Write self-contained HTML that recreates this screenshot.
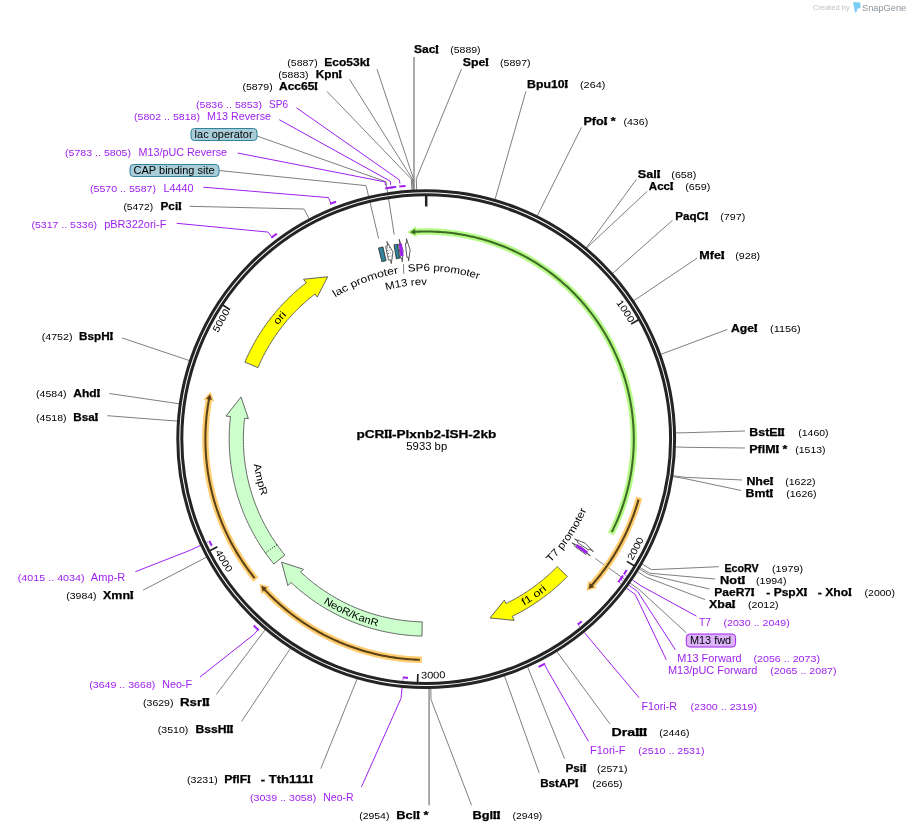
<!DOCTYPE html>
<html><head><meta charset="utf-8"><title>pCRII-Plxnb2-ISH-2kb</title>
<style>html,body{margin:0;padding:0;background:#fff;}svg{display:block;will-change:transform;}text{font-family:"Liberation Sans",sans-serif;}</style>
</head><body>
<svg width="910" height="832" viewBox="0 0 910 832" font-family="'Liberation Sans', sans-serif">
<rect width="910" height="832" fill="#fff"/>
<g stroke="#7f7f7f" stroke-width="1" fill="none">
<polyline points="414,57 414,190.57" fill="none" stroke="#9c9c9c" stroke-width="1.7"/>
<polyline points="377,69.2 413.51,178.91 414.08,190.6" fill="none" />
<polyline points="349.5,79.3 412.41,178.97 413.03,190.65" fill="none" />
<polyline points="326.8,91.2 411.31,179.03 411.98,190.71" fill="none" />
<polyline points="461.4,69.2 416.27,178.79 416.72,190.48" fill="none" />
<polyline points="525.9,91.4 494.86,199.96" fill="none" />
<polyline points="581.5,127.3 537.04,216.35" fill="none" />
<polyline points="636.4,179.4 585.88,248.3" fill="none" />
<polyline points="647.3,191.2 586.08,248.47" fill="none" />
<polyline points="672.5,220.3 612.14,273.79" fill="none" />
<polyline points="697,258.2 633.21,301.09" fill="none" />
<polyline points="727.4,329.4 660.21,354.59" fill="none" />
<polyline points="745,431 686.62,432.69 674.92,432.97" fill="none" />
<polyline points="745,448 686.57,447.31 674.88,446.94" fill="none" />
<polyline points="742,480 683.89,477.24 672.32,475.53" fill="none" />
<polyline points="741.2,490.5 683.73,478.33 672.16,476.57" fill="none" />
<polyline points="718.8,566.7 651.62,569.67 641.49,563.8" fill="none" />
<polyline points="715,579 649.51,573.23 639.48,567.21" fill="none" />
<polyline points="709.5,589 648.66,574.65 638.66,568.56" fill="none" />
<polyline points="705,599.6 646.92,577.46 637,571.25" fill="none" />
<polyline points="610,724 556.5,651.05" fill="none" />
<polyline points="564.5,758.5 527.39,666.39" fill="none" />
<polyline points="539.2,773 504.3,675.32" fill="none" />
<polyline points="471.5,805.2 431.03,699.56 430.81,687.86" fill="none" />
<polyline points="429.1,805.2 429.1,687.88" fill="none" stroke="#9c9c9c" stroke-width="1.7"/>
<polyline points="320.8,768.6 357.42,678.2" fill="none" />
<polyline points="241.5,721.5 290.77,647.81" fill="none" />
<polyline points="216.3,694.5 265.61,629.14" fill="none" />
<polyline points="143,590.2 207.06,556.9" fill="none" />
<polyline points="107.4,415.7 166.38,420.29 178.05,421.13" fill="none" />
<polyline points="109.4,393.5 168.33,402.19 179.91,403.85" fill="none" />
<polyline points="122,337.9 190.04,360.81" fill="none" />
<polyline points="189.5,206.3 304.01,209.03 309.5,219.37" fill="none" />
<polyline points="257,136 385.95,181.73 394.21,234.59" fill="none" />
<polyline points="219,170.5 366.05,185.64 378.64,238.67" fill="none" />
<polyline points="686.5,633 638.97,589.4 595.27,558.54" fill="none" />
<polyline points="403.5,264.2 403.8,273.8" fill="none" />
</g>
<g stroke="#a020f0" fill="none" stroke-linejoin="round">
<polyline points="176.7,223.3 268.06,232.09 271.64,236.78" fill="none" stroke-width="1.0"/>
<polyline points="271.32,237.78 271.93,237.32 272.53,236.86 273.13,236.4 273.74,235.94 274.35,235.49 274.96,235.04 275.57,234.59 276.18,234.14 276.79,233.69" fill="none" stroke-width="2.0"/>
<polyline points="203.2,187.2 328.51,197.61 330.72,203.08" fill="none" stroke-width="1.0"/>
<polyline points="330.15,203.96 330.87,203.67 331.6,203.37 332.34,203.08 333.07,202.79 333.8,202.5 334.53,202.22 335.27,201.94 336,201.65" fill="none" stroke-width="2.0"/>
<polyline points="237.6,153 384.99,181.88 385.58,185.53" fill="none" stroke-width="1.0"/>
<polyline points="385.17,188.44 385.93,188.31 386.68,188.19 387.43,188.08 388.19,187.96 388.95,187.85 389.7,187.74 390.46,187.63 391.21,187.52 391.97,187.42 392.73,187.32" fill="none" stroke-width="2.0"/>
<polyline points="279.3,119.7 390.18,181.1 390.69,184.77" fill="none" stroke-width="1.0"/>
<polyline points="390.22,187.66 390.97,187.56 391.71,187.45 392.46,187.35 393.21,187.25 393.95,187.16 394.7,187.06 395.45,186.97 396.2,186.88" fill="none" stroke-width="2.0"/>
<polyline points="296.5,107.8 399.49,179.97 399.87,183.65" fill="none" stroke-width="1.0"/>
<polyline points="399.3,186.53 400.08,186.45 400.86,186.37 401.65,186.29 402.43,186.21 403.21,186.14 404,186.07 404.78,186 405.56,185.94" fill="none" stroke-width="2.0"/>
<polyline points="588.5,741.5 547.29,669.75 544.55,664.52" fill="none" stroke-width="1.0"/>
<polyline points="545.03,663.59 544.38,663.93 543.72,664.28 543.07,664.62 542.42,664.95 541.76,665.29 541.1,665.62 540.44,665.96 539.79,666.29 539.13,666.62 538.47,666.94" fill="none" stroke-width="2.0"/>
<polyline points="200,677 253.89,634.47 257.79,630.04" fill="none" stroke-width="1.0"/>
<polyline points="258.83,630.16 258.26,629.66 257.69,629.16 257.13,628.65 256.56,628.15 256,627.64 255.43,627.13 254.87,626.62 254.31,626.1 253.75,625.59" fill="none" stroke-width="2.0"/>
<polyline points="696.5,616.2 641.33,586 632.49,579.97" fill="none" stroke-width="1.0"/>
<polyline points="626.87,576.14 624.81,574.73" fill="none" stroke-width="0.9" stroke-opacity="0.75"/>
<polyline points="675.4,649.8 637.52,591.42 628.84,585.17" fill="none" stroke-width="1.0"/>
<polyline points="623.33,581.19 621.3,579.73" fill="none" stroke-width="0.9" stroke-opacity="0.75"/>
<polyline points="666.3,659.8 635.24,594.54 626.66,588.16" fill="none" stroke-width="1.0"/>
<polyline points="621.2,584.1 619.19,582.61" fill="none" stroke-width="0.9" stroke-opacity="0.75"/>
<polyline points="639.2,697.8 591.16,640.72 584.38,632.44" fill="none" stroke-width="1.0"/>
<polyline points="580.07,627.17 578.49,625.24" fill="none" stroke-width="0.9" stroke-opacity="0.75"/>
<polyline points="361.4,787 401,698.38 402.03,687.73" fill="none" stroke-width="1.0"/>
<polyline points="402.69,680.96 402.93,678.47" fill="none" stroke-width="0.9" stroke-opacity="0.75"/>
<polyline points="135.4,571.7 190.54,550.13 200.22,545.56" fill="none" stroke-width="1.0"/>
<polyline points="206.38,542.67 208.64,541.6" fill="none" stroke-width="0.9" stroke-opacity="0.75"/>
</g>
<circle cx="426.2" cy="439.1" r="246.4" fill="none" stroke="#fff" stroke-width="6.6" stroke-opacity="0.55"/>
<circle cx="426.2" cy="439.1" r="248.4" fill="none" stroke="#242424" stroke-width="3.0"/>
<circle cx="426.2" cy="439.1" r="244.4" fill="none" stroke="#242424" stroke-width="3.0"/>
<g stroke="#a020f0" fill="none" stroke-linejoin="round">
<polyline points="626.77,569.99 626.36,570.61 625.95,571.23 625.54,571.86 625.12,572.48 624.71,573.1 624.29,573.71 623.87,574.33" fill="none" stroke-width="2.0"/>
<polyline points="623.09,575.46 622.71,576.01 622.32,576.56 621.93,577.12 621.55,577.67 621.15,578.21 620.76,578.76 620.37,579.31" fill="none" stroke-width="2.0"/>
<polyline points="621.78,577.33 621.35,577.94 620.92,578.55 620.48,579.16 620.04,579.76 619.6,580.37 619.16,580.97 618.71,581.57 618.27,582.17" fill="none" stroke-width="2.0"/>
<polyline points="581.71,621.24 581.14,621.73 580.57,622.21 580,622.69 579.43,623.17 578.85,623.65 578.28,624.12 577.7,624.59" fill="none" stroke-width="2.0"/>
<polyline points="408.03,677.91 407.29,677.85 406.54,677.79 405.8,677.73 405.06,677.66 404.31,677.6 403.57,677.53 402.83,677.46" fill="none" stroke-width="2.0"/>
<polyline points="211.73,545.7 211.4,545.03 211.07,544.36 210.74,543.69 210.42,543.01 210.09,542.34 209.77,541.67 209.46,540.99" fill="none" stroke-width="2.0"/>
</g>
<polyline points="426.2,195.1 426.2,206.5" fill="none" stroke="#222" stroke-width="2.5"/>
<polyline points="638.94,319.61 631.09,324.01" fill="none" stroke="#222" stroke-width="1.7"/>
<text transform="translate(617.85,305.19) rotate(55.06) scale(1.15,1)" text-anchor="middle" font-size="9.6" fill="#000">1</text>
<text transform="translate(621.29,310.25) rotate(56.56) scale(1.15,1)" text-anchor="middle" font-size="9.6" fill="#000">0</text>
<text transform="translate(624.6,315.41) rotate(58.06) scale(1.15,1)" text-anchor="middle" font-size="9.6" fill="#000">0</text>
<text transform="translate(627.77,320.65) rotate(59.56) scale(1.15,1)" text-anchor="middle" font-size="9.6" fill="#000">0</text>
<polyline points="634.57,566.06 626.88,561.38" fill="none" stroke="#222" stroke-width="1.7"/>
<text transform="translate(634.01,558.16) rotate(-60.19) scale(1.15,1)" text-anchor="middle" font-size="9.6" fill="#000">2</text>
<text transform="translate(636.99,552.81) rotate(-61.66) scale(1.15,1)" text-anchor="middle" font-size="9.6" fill="#000">0</text>
<text transform="translate(639.83,547.38) rotate(-63.12) scale(1.15,1)" text-anchor="middle" font-size="9.6" fill="#000">0</text>
<text transform="translate(642.53,541.88) rotate(-64.59) scale(1.15,1)" text-anchor="middle" font-size="9.6" fill="#000">0</text>
<polyline points="417.55,682.95 417.86,673.95" fill="none" stroke="#222" stroke-width="1.7"/>
<text transform="translate(424.17,678.59) rotate(0.49) scale(1.15,1)" text-anchor="middle" font-size="9.6" fill="#000">3</text>
<text transform="translate(430.29,678.57) rotate(-0.98) scale(1.15,1)" text-anchor="middle" font-size="9.6" fill="#000">0</text>
<text transform="translate(436.41,678.38) rotate(-2.44) scale(1.15,1)" text-anchor="middle" font-size="9.6" fill="#000">0</text>
<text transform="translate(442.53,678.04) rotate(-3.91) scale(1.15,1)" text-anchor="middle" font-size="9.6" fill="#000">0</text>
<polyline points="209.36,550.97 217.36,546.85" fill="none" stroke="#222" stroke-width="1.7"/>
<text transform="translate(216.4,554.61) rotate(61.16) scale(1.15,1)" text-anchor="middle" font-size="9.6" fill="#000">4</text>
<text transform="translate(219.42,559.94) rotate(59.7) scale(1.15,1)" text-anchor="middle" font-size="9.6" fill="#000">0</text>
<text transform="translate(222.58,565.19) rotate(58.23) scale(1.15,1)" text-anchor="middle" font-size="9.6" fill="#000">0</text>
<text transform="translate(225.87,570.35) rotate(56.77) scale(1.15,1)" text-anchor="middle" font-size="9.6" fill="#000">0</text>
<polyline points="222.47,304.83 229.98,309.78" fill="none" stroke="#222" stroke-width="1.7"/>
<text transform="translate(219.32,330.18) rotate(297.77) scale(1.15,1)" text-anchor="middle" font-size="9.6" fill="#000">5</text>
<text transform="translate(222.25,324.8) rotate(299.27) scale(1.15,1)" text-anchor="middle" font-size="9.6" fill="#000">0</text>
<text transform="translate(225.31,319.49) rotate(300.77) scale(1.15,1)" text-anchor="middle" font-size="9.6" fill="#000">0</text>
<text transform="translate(228.51,314.27) rotate(302.27) scale(1.15,1)" text-anchor="middle" font-size="9.6" fill="#000">0</text>
<path d="M610.9,533.89 L611.88,531.94 L612.85,529.98 L613.8,528 L614.73,526.02 L615.63,524.03 L616.52,522.03 L617.38,520.02 L618.22,518 L619.04,515.97 L619.84,513.93 L620.62,511.89 L621.38,509.83 L622.11,507.77 L622.83,505.7 L623.52,503.63 L624.19,501.55 L624.83,499.45 L625.46,497.36 L626.06,495.25 L626.64,493.14 L627.2,491.03 L627.74,488.91 L628.25,486.78 L628.74,484.65 L629.21,482.51 L629.66,480.37 L630.08,478.22 L630.48,476.07 L630.86,473.91 L631.22,471.76 L631.55,469.59 L631.86,467.43 L632.15,465.26 L632.41,463.09 L632.65,460.91 L632.87,458.73 L633.07,456.55 L633.24,454.37 L633.39,452.19 L633.51,450 L633.62,447.82 L633.7,445.63 L633.75,443.44 L633.79,441.26 L633.8,439.07 L633.79,436.88 L633.75,434.69 L633.7,432.5 L633.61,430.32 L633.51,428.13 L633.38,425.95 L633.23,423.76 L633.06,421.58 L632.86,419.4 L632.64,417.23 L632.4,415.05 L632.14,412.88 L631.85,410.71 L631.54,408.54 L631.21,406.38 L630.85,404.22 L630.47,402.07 L630.07,399.92 L629.64,397.77 L629.2,395.63 L628.73,393.49 L628.24,391.36 L627.72,389.23 L627.18,387.11 L626.63,384.99 L626.04,382.88 L625.44,380.78 L624.81,378.68 L624.17,376.59 L623.5,374.51 L622.8,372.43 L622.09,370.37 L621.36,368.31 L620.6,366.25 L619.82,364.21 L619.02,362.17 L618.2,360.14 L617.36,358.12 L616.49,356.11 L615.61,354.11 L614.7,352.12 L613.77,350.14 L612.82,348.17 L611.86,346.2 L610.87,344.25 L609.86,342.31 L608.83,340.38 L607.77,338.46 L606.7,336.55 L605.61,334.66 L604.5,332.77 L603.37,330.9 L602.22,329.03 L601.05,327.19 L599.86,325.35 L598.65,323.52 L597.43,321.71 L596.18,319.92 L594.91,318.13 L593.63,316.36 L592.33,314.6 L591,312.86 L589.66,311.13 L588.31,309.41 L586.93,307.71 L585.54,306.02 L584.12,304.35 L582.7,302.69 L581.25,301.05 L579.79,299.42 L578.3,297.81 L576.81,296.22 L575.29,294.64 L573.76,293.07 L572.21,291.53 L570.65,290 L569.07,288.48 L567.48,286.98 L565.86,285.5 L564.24,284.04 L562.6,282.59 L560.94,281.17 L559.27,279.75 L557.58,278.36 L555.88,276.98 L554.16,275.63 L552.43,274.29 L550.69,272.97 L548.93,271.66 L547.16,270.38 L545.37,269.11 L543.57,267.87 L541.76,266.64 L539.94,265.43 L538.1,264.24 L536.25,263.07 L534.39,261.92 L532.52,260.79 L530.63,259.68 L528.73,258.59 L526.83,257.52 L524.91,256.47 L522.98,255.44 L521.03,254.43 L519.08,253.44 L517.12,252.47 L515.15,251.52 L513.17,250.59 L511.17,249.69 L509.17,248.8 L507.16,247.94 L505.14,247.1 L503.11,246.27 L501.08,245.47 L499.03,244.7 L496.98,243.94 L494.92,243.2 L492.85,242.49 L490.77,241.8 L488.69,241.13 L486.6,240.48 L484.5,239.86 L482.4,239.25 L480.29,238.67 L478.18,238.11 L476.05,237.57 L473.93,237.06 L471.79,236.57 L469.66,236.1 L467.52,235.65 L465.37,235.23 L463.22,234.83 L461.06,234.45 L458.9,234.09 L456.74,233.76 L454.57,233.45 L452.4,233.16 L450.23,232.9 L448.06,232.65 L445.88,232.43 L443.7,232.24 L441.52,232.07 L439.34,231.92 L437.15,231.79 L434.97,231.69 L432.78,231.6 L430.59,231.55 L428.4,231.51 L426.22,231.5 L424.03,231.51 L421.84,231.55 L419.65,231.6 L417.47,231.68 L415.28,231.79" fill="none" stroke="#b5fa86" stroke-width="6.5"/>
<polygon points="407.3,232.36 416.01,226.14 416.55,237.33" fill="#b5fa86"/>
<path d="M611.8,532.11 L612.77,530.14 L613.72,528.16 L614.66,526.18 L615.57,524.18 L616.45,522.17 L617.32,520.16 L618.17,518.13 L618.99,516.1 L619.79,514.06 L620.58,512.01 L621.34,509.95 L622.07,507.88 L622.79,505.81 L623.48,503.73 L624.16,501.64 L624.81,499.54 L625.43,497.44 L626.04,495.33 L626.62,493.22 L627.18,491.09 L627.72,488.97 L628.24,486.83 L628.73,484.7 L629.2,482.55 L629.65,480.41 L630.07,478.25 L630.48,476.1 L630.86,473.93 L631.21,471.77 L631.55,469.6 L631.86,467.43 L632.15,465.25 L632.41,463.08 L632.65,460.89 L632.87,458.71 L633.07,456.53 L633.24,454.34 L633.39,452.15 L633.52,449.96 L633.62,447.77 L633.7,445.57 L633.76,443.38 L633.79,441.19 L633.8,438.99 L633.79,436.8 L633.75,434.6 L633.69,432.41 L633.61,430.22 L633.5,428.03 L633.38,425.84 L633.22,423.65 L633.05,421.46 L632.85,419.27 L632.63,417.09 L632.39,414.91 L632.12,412.73 L631.83,410.56 L631.52,408.39 L631.18,406.22 L630.82,404.05 L630.44,401.89 L630.03,399.74 L629.61,397.58 L629.16,395.44 L628.68,393.29 L628.19,391.16 L627.67,389.02 L627.13,386.9 L626.57,384.78 L625.98,382.66 L625.37,380.55 L624.74,378.45 L624.09,376.36 L623.42,374.27 L622.72,372.19 L622,370.11 L621.26,368.05 L620.5,365.99 L619.72,363.94 L618.91,361.9 L618.09,359.87 L617.24,357.84 L616.37,355.83 L615.48,353.82 L614.56,351.83 L613.63,349.84 L612.68,347.87 L611.7,345.9 L610.71,343.94 L609.69,342 L608.66,340.07 L607.6,338.14 L606.52,336.23 L605.42,334.33 L604.31,332.44 L603.17,330.57 L602.01,328.7 L600.84,326.85 L599.64,325.01 L598.42,323.18 L597.19,321.37 L595.93,319.57 L594.66,317.78 L593.37,316.01 L592.06,314.25 L590.73,312.5 L589.38,310.77 L588.02,309.05 L586.63,307.35 L585.23,305.66 L583.81,303.99 L582.38,302.33 L580.92,300.69 L579.45,299.06 L577.96,297.45 L576.46,295.85 L574.93,294.27 L573.4,292.71 L571.84,291.16 L570.27,289.63 L568.68,288.11 L567.08,286.62 L565.46,285.13 L563.82,283.67 L562.17,282.23 L560.51,280.8 L558.82,279.39 L557.13,277.99 L555.42,276.62 L553.69,275.26 L551.96,273.92 L550.2,272.6 L548.44,271.3 L546.66,270.02 L544.86,268.76 L543.06,267.51 L541.23,266.29 L539.4,265.08 L537.56,263.89 L535.7,262.73 L533.83,261.58 L531.95,260.45 L530.05,259.34 L528.15,258.26 L526.23,257.19 L524.3,256.14 L522.36,255.11 L520.41,254.11 L518.45,253.12 L516.48,252.16 L514.5,251.21 L512.51,250.29 L510.51,249.39 L508.5,248.51 L506.48,247.65 L504.45,246.81 L502.41,246 L500.37,245.2 L498.32,244.43 L496.25,243.68 L494.18,242.95 L492.11,242.24 L490.02,241.55 L487.93,240.89 L485.83,240.25 L483.73,239.63 L481.62,239.03 L479.5,238.46 L477.38,237.91 L475.25,237.38 L473.11,236.87 L470.97,236.39 L468.83,235.92 L466.68,235.48 L464.52,235.07 L462.36,234.67 L460.2,234.3 L458.03,233.96 L455.86,233.63 L453.69,233.33 L451.51,233.05 L449.33,232.79 L447.15,232.56 L444.97,232.35 L442.78,232.16 L440.59,232 L438.4,231.86 L436.21,231.74 L434.02,231.65 L431.83,231.58 L429.63,231.53 L427.44,231.5 L425.25,231.5 L423.05,231.52 L420.86,231.57 L418.66,231.64 L416.47,231.73 L414.28,231.84" fill="none" stroke="#3f6c25" stroke-width="2.05"/>
<polygon points="409.99,232.13 415.12,228.84 415.44,234.73" fill="#3f6c25"/>
<path d="M639.14,497.5 L638.51,499.74 L637.86,501.98 L637.18,504.21 L636.48,506.43 L635.76,508.65 L635.01,510.86 L634.24,513.06 L633.45,515.25 L632.64,517.44 L631.8,519.61 L630.94,521.78 L630.05,523.93 L629.15,526.08 L628.22,528.22 L627.26,530.34 L626.29,532.46 L625.29,534.57 L624.27,536.67 L623.23,538.75 L622.17,540.83 L621.09,542.89 L619.98,544.94 L618.85,546.98 L617.7,549.01 L616.53,551.02 L615.34,553.03 L614.13,555.02 L612.89,556.99 L611.64,558.96 L610.36,560.91 L609.06,562.85 L607.75,564.77 L606.41,566.68 L605.05,568.57 L603.68,570.46 L602.28,572.32 L600.87,574.17 L599.43,576.01 L597.97,577.83 L596.5,579.64 L595.01,581.43 L593.5,583.2 L591.97,584.96" fill="none" stroke="#ffcc70" stroke-width="6.5"/>
<polygon points="586.57,590.87 596.85,587.89 588.4,580.53" fill="#ffcc70"/>
<path d="M638.6,499.42 L637.96,501.64 L637.29,503.85 L636.6,506.05 L635.89,508.25 L635.16,510.44 L634.4,512.62 L633.62,514.79 L632.82,516.95 L631.99,519.11 L631.15,521.25 L630.28,523.39 L629.39,525.52 L628.47,527.64 L627.54,529.75 L626.58,531.85 L625.6,533.94 L624.59,536.01 L623.57,538.08 L622.53,540.14 L621.46,542.19 L620.37,544.22 L619.26,546.24 L618.13,548.26 L616.98,550.26 L615.81,552.24 L614.62,554.22 L613.4,556.18 L612.17,558.13 L610.91,560.07 L609.64,561.99 L608.34,563.9 L607.03,565.8 L605.7,567.68 L604.34,569.55 L602.97,571.41 L601.58,573.25 L600.17,575.07 L598.74,576.88 L597.29,578.68 L595.82,580.46 L594.33,582.22 L592.83,583.97 L591.3,585.71" fill="none" stroke="#5a4216" stroke-width="2.05"/>
<polygon points="588.42,588.89 594.18,586.91 589.75,583.01" fill="#5a4216"/>
<path d="M421.87,659.86 L419.55,659.8 L417.23,659.72 L414.9,659.61 L412.58,659.48 L410.26,659.32 L407.94,659.14 L405.63,658.94 L403.31,658.71 L401,658.46 L398.69,658.18 L396.39,657.88 L394.09,657.55 L391.79,657.2 L389.49,656.83 L387.2,656.43 L384.92,656.01 L382.63,655.56 L380.36,655.09 L378.08,654.59 L375.82,654.08 L373.56,653.53 L371.3,652.97 L369.05,652.38 L366.81,651.76 L364.57,651.13 L362.34,650.46 L360.12,649.78 L357.91,649.07 L355.7,648.34 L353.5,647.59 L351.31,646.81 L349.13,646.01 L346.95,645.19 L344.79,644.34 L342.63,643.47 L340.48,642.58 L338.34,641.67 L336.21,640.73 L334.1,639.77 L331.99,638.79 L329.89,637.79 L327.8,636.76 L325.73,635.72 L323.66,634.65 L321.61,633.56 L319.57,632.44 L317.54,631.31 L315.52,630.16 L313.51,628.98 L311.52,627.78 L309.54,626.56 L307.57,625.33 L305.62,624.07 L303.68,622.79 L301.75,621.49 L299.83,620.16 L297.93,618.82 L296.05,617.46 L294.18,616.08 L292.32,614.68 L290.48,613.26 L288.65,611.82 L286.84,610.37 L285.05,608.89 L283.27,607.39 L281.5,605.88 L279.75,604.35 L278.02,602.79 L276.31,601.23 L274.61,599.64 L272.93,598.03 L271.26,596.41 L269.61,594.77 L267.98,593.11 L266.37,591.44 L264.77,589.75" fill="none" stroke="#ffcc70" stroke-width="6.5"/>
<polygon points="259.42,583.8 261.38,594.31 269.53,586.64" fill="#ffcc70"/>
<path d="M419.87,659.81 L417.56,659.73 L415.25,659.63 L412.95,659.5 L410.64,659.35 L408.33,659.18 L406.03,658.98 L403.73,658.75 L401.43,658.51 L399.13,658.23 L396.84,657.94 L394.55,657.62 L392.26,657.28 L389.98,656.91 L387.7,656.52 L385.43,656.1 L383.16,655.66 L380.89,655.2 L378.63,654.72 L376.38,654.21 L374.13,653.67 L371.88,653.12 L369.65,652.53 L367.41,651.93 L365.19,651.3 L362.97,650.65 L360.76,649.98 L358.55,649.28 L356.36,648.56 L354.17,647.82 L351.99,647.05 L349.81,646.27 L347.65,645.45 L345.49,644.62 L343.34,643.76 L341.21,642.89 L339.08,641.98 L336.96,641.06 L334.85,640.12 L332.75,639.15 L330.66,638.16 L328.58,637.15 L326.51,636.11 L324.45,635.06 L322.41,633.98 L320.37,632.89 L318.35,631.77 L316.34,630.63 L314.34,629.47 L312.35,628.28 L310.37,627.08 L308.41,625.86 L306.46,624.62 L304.53,623.35 L302.61,622.07 L300.7,620.76 L298.8,619.44 L296.92,618.09 L295.05,616.73 L293.2,615.35 L291.36,613.95 L289.54,612.52 L287.73,611.08 L285.94,609.62 L284.16,608.15 L282.4,606.65 L280.65,605.14 L278.92,603.6 L277.2,602.05 L275.51,600.48 L273.82,598.9 L272.16,597.29 L270.51,595.67 L268.88,594.03 L267.27,592.37 L265.67,590.7 L264.09,589.01" fill="none" stroke="#5a4216" stroke-width="2.05"/>
<polygon points="261.2,585.83 262.62,591.76 266.93,587.73" fill="#5a4216"/>
<path d="M255.94,579.68 L254.47,577.89 L253.03,576.08 L251.6,574.26 L250.19,572.42 L248.81,570.57 L247.44,568.7 L246.09,566.82 L244.76,564.92 L243.45,563.01 L242.16,561.09 L240.89,559.15 L239.64,557.2 L238.41,555.24 L237.2,553.26 L236.02,551.28 L234.85,549.27 L233.71,547.26 L232.58,545.24 L231.48,543.2 L230.4,541.15 L229.34,539.09 L228.3,537.02 L227.29,534.94 L226.29,532.85 L225.32,530.75 L224.37,528.64 L223.44,526.52 L222.54,524.39 L221.65,522.25 L220.79,520.1 L219.95,517.94 L219.14,515.77 L218.35,513.59 L217.58,511.41 L216.83,509.22 L216.11,507.02 L215.4,504.81 L214.73,502.6 L214.07,500.38 L213.44,498.15 L212.83,495.91 L212.25,493.67 L211.69,491.43 L211.15,489.17 L210.64,486.92 L210.15,484.65 L209.68,482.38 L209.24,480.11 L208.82,477.83 L208.43,475.55 L208.06,473.27 L207.71,470.98 L207.39,468.68 L207.09,466.39 L206.82,464.09 L206.57,461.79 L206.34,459.48 L206.14,457.18 L205.96,454.87 L205.81,452.56 L205.68,450.24 L205.58,447.93 L205.5,445.62 L205.44,443.3 L205.41,440.99 L205.4,438.67 L205.42,436.36 L205.46,434.04 L205.52,431.73 L205.61,429.41 L205.73,427.1 L205.86,424.79 L206.03,422.48 L206.21,420.17 L206.42,417.86 L206.66,415.56 L206.92,413.26 L207.2,410.96 L207.51,408.67 L207.84,406.37 L208.19,404.09 L208.57,401.8 L208.98,399.52" fill="none" stroke="#ffcc70" stroke-width="6.5"/>
<polygon points="210.55,391.68 203.29,399.53 214.31,401.48" fill="#ffcc70"/>
<path d="M254.67,578.14 L253.21,576.32 L251.78,574.48 L250.36,572.63 L248.96,570.77 L247.57,568.89 L246.21,567 L244.87,565.09 L243.55,563.17 L242.25,561.23 L240.97,559.28 L239.71,557.32 L238.48,555.34 L237.26,553.36 L236.06,551.35 L234.89,549.34 L233.74,547.31 L232.6,545.27 L231.49,543.22 L230.4,541.16 L229.34,539.09 L228.29,537.01 L227.27,534.91 L226.27,532.8 L225.29,530.69 L224.34,528.56 L223.4,526.42 L222.49,524.28 L221.6,522.12 L220.74,519.96 L219.9,517.78 L219.08,515.6 L218.28,513.41 L217.51,511.21 L216.76,509 L216.03,506.79 L215.33,504.56 L214.65,502.33 L213.99,500.09 L213.36,497.85 L212.75,495.6 L212.17,493.34 L211.61,491.08 L211.07,488.81 L210.56,486.54 L210.07,484.26 L209.6,481.97 L209.16,479.68 L208.74,477.39 L208.35,475.09 L207.98,472.79 L207.64,470.48 L207.32,468.17 L207.03,465.86 L206.76,463.54 L206.51,461.22 L206.29,458.9 L206.09,456.58 L205.92,454.25 L205.77,451.93 L205.65,449.6 L205.55,447.27 L205.48,444.94 L205.43,442.61 L205.4,440.28 L205.4,437.94 L205.43,435.61 L205.48,433.28 L205.55,430.95 L205.65,428.62 L205.77,426.29 L205.92,423.97 L206.09,421.64 L206.29,419.32 L206.51,417 L206.75,414.68 L207.03,412.36 L207.32,410.05 L207.64,407.74 L207.98,405.43 L208.35,403.13 L208.74,400.83 L209.16,398.54" fill="none" stroke="#5a4216" stroke-width="2.05"/>
<polygon points="209.99,394.32 206.07,398.99 211.88,400.05" fill="#5a4216"/>
<polygon points="244.88,362.09 245.53,360.56 246.2,359.04 246.88,357.52 247.58,356.01 248.29,354.51 249.01,353.01 249.74,351.52 250.48,350.03 251.24,348.55 252.01,347.08 252.79,345.61 253.59,344.16 254.4,342.7 255.22,341.26 256.05,339.82 256.89,338.38 257.75,336.96 258.61,335.54 259.49,334.13 260.39,332.73 261.29,331.33 262.2,329.95 263.13,328.57 264.07,327.19 265.02,325.83 265.98,324.47 266.95,323.13 267.94,321.79 268.93,320.46 269.94,319.13 270.96,317.82 271.99,316.51 273.03,315.22 274.08,313.93 275.14,312.65 276.21,311.38 277.29,310.12 278.39,308.87 279.49,307.62 280.61,306.39 281.73,305.17 282.87,303.95 284.01,302.75 285.17,301.55 286.33,300.37 287.51,299.19 288.69,298.03 289.89,296.87 291.09,295.73 292.31,294.59 293.53,293.47 294.77,292.36 296.01,291.25 297.26,290.16 298.52,289.08 299.79,288 301.07,286.94 302.36,285.89 303.66,284.85 304.96,283.82 306.28,282.81 303.54,279.24 327.69,276.75 317.23,297.09 314.92,294.07 313.7,295.02 312.49,295.97 311.29,296.94 310.09,297.91 308.9,298.9 307.72,299.89 306.55,300.89 305.39,301.91 304.24,302.93 303.09,303.97 301.96,305.01 300.83,306.06 299.71,307.13 298.61,308.2 297.51,309.28 296.41,310.37 295.33,311.47 294.26,312.58 293.2,313.7 292.14,314.82 291.1,315.96 290.07,317.1 289.04,318.25 288.03,319.42 287.02,320.59 286.03,321.76 285.04,322.95 284.07,324.15 283.1,325.35 282.15,326.56 281.2,327.78 280.27,329.01 279.35,330.24 278.43,331.49 277.53,332.74 276.64,334 275.76,335.26 274.89,336.53 274.03,337.81 273.18,339.1 272.34,340.4 271.51,341.7 270.69,343.01 269.89,344.32 269.1,345.64 268.31,346.97 267.54,348.31 266.78,349.65 266.03,351 265.29,352.35 264.57,353.71 263.85,355.08 263.15,356.45 262.46,357.83 261.78,359.22 261.11,360.61 260.45,362 259.81,363.4 259.18,364.81 258.56,366.22 257.95,367.64" fill="#ffff00" stroke="#555" stroke-width="0.9" stroke-linejoin="miter"/>
<polygon points="567.39,576.49 566.22,577.68 565.04,578.86 563.85,580.03 562.65,581.19 561.44,582.34 560.22,583.48 559,584.61 557.76,585.73 556.51,586.84 555.25,587.94 553.99,589.03 552.71,590.11 551.43,591.17 550.14,592.23 548.84,593.27 547.52,594.31 546.21,595.33 544.88,596.34 543.54,597.34 542.2,598.33 540.84,599.31 539.48,600.27 538.11,601.23 536.73,602.17 535.35,603.1 533.96,604.02 532.56,604.92 531.15,605.82 529.73,606.7 528.31,607.57 526.88,608.43 525.44,609.28 523.99,610.11 522.54,610.94 521.08,611.75 519.61,612.54 518.14,613.33 516.66,614.1 515.18,614.86 513.68,615.61 512.19,616.34 514.15,620.39 489.99,617.96 504.33,600.15 505.99,603.57 507.38,602.89 508.76,602.19 510.14,601.49 511.51,600.77 512.88,600.04 514.24,599.3 515.6,598.55 516.94,597.79 518.28,597.01 519.62,596.23 520.95,595.43 522.27,594.62 523.58,593.8 524.89,592.97 526.19,592.13 527.48,591.28 528.77,590.41 530.05,589.54 531.32,588.65 532.58,587.76 533.84,586.85 535.08,585.93 536.32,585.01 537.56,584.07 538.78,583.12 540,582.16 541.2,581.19 542.4,580.21 543.59,579.22 544.78,578.22 545.95,577.21 547.12,576.19 548.27,575.16 549.42,574.13 550.56,573.08 551.69,572.02 552.81,570.95 553.93,569.87 555.03,568.79 556.12,567.69 557.21,566.58" fill="#ffff00" stroke="#555" stroke-width="0.9" stroke-linejoin="miter"/>
<polygon points="273.89,564.05 272.85,562.76 271.81,561.46 270.78,560.15 269.76,558.84 268.76,557.51 267.77,556.18 266.78,554.84 265.81,553.49 264.85,552.13 263.9,550.77 262.97,549.39 262.04,548.01 261.13,546.62 260.23,545.22 259.34,543.82 258.46,542.41 257.6,540.99 256.74,539.56 255.9,538.13 255.07,536.69 254.25,535.24 253.45,533.79 252.65,532.33 251.87,530.86 251.11,529.38 250.35,527.9 249.61,526.42 248.88,524.92 248.16,523.42 247.45,521.92 246.76,520.41 246.08,518.89 245.41,517.37 244.76,515.84 244.12,514.3 243.49,512.77 242.88,511.22 242.27,509.67 241.69,508.12 241.11,506.56 240.55,504.99 240,503.42 239.46,501.85 238.94,500.27 238.43,498.69 237.93,497.1 237.45,495.51 236.98,493.92 236.52,492.32 236.08,490.72 235.65,489.11 235.24,487.5 234.84,485.89 234.45,484.27 234.07,482.65 233.71,481.03 233.37,479.4 233.03,477.77 232.71,476.14 232.41,474.51 232.12,472.87 231.84,471.23 231.57,469.59 231.32,467.95 231.09,466.3 230.86,464.65 230.66,463.01 230.46,461.35 230.28,459.7 230.11,458.05 229.96,456.39 229.82,454.74 229.7,453.08 229.59,451.42 229.49,449.76 229.41,448.1 229.34,446.44 229.28,444.78 229.24,443.12 229.21,441.45 229.2,439.79 229.2,438.13 229.22,436.47 229.25,434.8 229.29,433.14 229.35,431.48 229.42,429.82 229.5,428.16 229.6,426.5 229.72,424.84 229.84,423.18 229.99,421.53 230.14,419.87 230.31,418.22 230.49,416.57 226.02,416.05 241.03,396.97 248.37,418.63 244.6,418.19 244.43,419.72 244.27,421.26 244.13,422.79 244,424.33 243.88,425.87 243.77,427.41 243.68,428.95 243.6,430.49 243.54,432.03 243.48,433.57 243.44,435.11 243.42,436.66 243.4,438.2 243.4,439.74 243.41,441.28 243.44,442.83 243.48,444.37 243.53,445.91 243.59,447.45 243.67,448.99 243.76,450.53 243.86,452.07 243.98,453.61 244.11,455.15 244.25,456.68 244.4,458.22 244.57,459.75 244.75,461.28 244.94,462.81 245.15,464.34 245.37,465.87 245.6,467.39 245.85,468.92 246.11,470.44 246.38,471.96 246.66,473.47 246.96,474.99 247.27,476.5 247.59,478.01 247.92,479.51 248.27,481.01 248.63,482.51 249,484.01 249.39,485.51 249.79,487 250.2,488.48 250.62,489.97 251.06,491.45 251.5,492.92 251.96,494.39 252.44,495.86 252.92,497.33 253.42,498.79 253.93,500.24 254.45,501.69 254.99,503.14 255.53,504.58 256.09,506.02 256.66,507.46 257.24,508.88 257.84,510.31 258.45,511.72 259.06,513.14 259.7,514.55 260.34,515.95 260.99,517.35 261.66,518.74 262.34,520.12 263.03,521.5 263.73,522.88 264.44,524.24 265.16,525.61 265.9,526.96 266.65,528.31 267.41,529.65 268.18,530.99 268.96,532.32 269.75,533.65 270.55,534.96 271.37,536.27 272.19,537.58 273.03,538.87 273.88,540.16 274.73,541.44 275.6,542.72 276.48,543.98 277.37,545.24 278.27,546.5 279.19,547.74 280.11,548.98 281.04,550.21 281.98,551.43 282.94,552.64 283.9,553.84 284.87,555.04" fill="#ccffcc" stroke="#555" stroke-width="0.9" stroke-linejoin="miter"/>
<polygon points="421.92,636.05 420.26,636.01 418.6,635.95 416.93,635.88 415.27,635.8 413.61,635.7 411.95,635.58 410.29,635.46 408.63,635.32 406.98,635.16 405.32,634.99 403.67,634.81 402.01,634.61 400.36,634.4 398.71,634.17 397.07,633.93 395.42,633.68 393.78,633.41 392.14,633.13 390.5,632.84 388.87,632.53 387.23,632.21 385.6,631.87 383.98,631.52 382.35,631.16 380.73,630.78 379.11,630.39 377.5,629.99 375.89,629.57 374.28,629.14 372.68,628.69 371.08,628.23 369.48,627.76 367.89,627.27 366.3,626.77 364.72,626.26 363.14,625.73 361.57,625.2 360,624.64 358.43,624.08 356.87,623.5 355.32,622.91 353.77,622.3 352.22,621.68 350.68,621.05 349.15,620.41 347.62,619.75 346.09,619.08 344.58,618.4 343.07,617.7 341.56,616.99 340.06,616.27 338.57,615.54 337.08,614.79 335.6,614.03 334.12,613.26 332.66,612.47 331.19,611.68 329.74,610.87 328.29,610.05 326.85,609.21 325.42,608.37 323.99,607.51 322.57,606.64 321.16,605.76 319.76,604.87 318.36,603.96 316.97,603.05 315.59,602.12 314.22,601.18 312.85,600.23 311.5,599.26 310.15,598.29 308.81,597.3 307.47,596.3 306.15,595.3 304.83,594.28 303.53,593.24 302.23,592.2 300.94,591.15 299.66,590.09 298.39,589.01 297.13,587.93 295.88,586.83 294.63,585.73 293.4,584.61 292.17,583.48 290.96,582.34 287.87,585.62 281.58,562.17 303.32,569.26 300.71,572.02 301.83,573.07 302.97,574.12 304.12,575.16 305.27,576.18 306.43,577.2 307.6,578.21 308.78,579.2 309.97,580.19 311.17,581.17 312.37,582.13 313.58,583.09 314.8,584.04 316.03,584.97 317.27,585.9 318.51,586.81 319.76,587.72 321.02,588.61 322.29,589.49 323.56,590.37 324.84,591.23 326.13,592.08 327.43,592.92 328.73,593.75 330.04,594.57 331.36,595.37 332.68,596.17 334.01,596.95 335.35,597.73 336.69,598.49 338.04,599.24 339.4,599.98 340.76,600.7 342.13,601.42 343.5,602.12 344.88,602.82 346.27,603.5 347.66,604.17 349.06,604.83 350.46,605.47 351.87,606.11 353.28,606.73 354.7,607.34 356.12,607.94 357.55,608.52 358.99,609.09 360.43,609.66 361.87,610.21 363.32,610.74 364.77,611.27 366.23,611.78 367.69,612.28 369.15,612.77 370.62,613.25 372.09,613.71 373.57,614.16 375.05,614.6 376.54,615.02 378.02,615.44 379.52,615.84 381.01,616.23 382.51,616.6 384.01,616.96 385.51,617.31 387.02,617.65 388.53,617.98 390.04,618.29 391.56,618.59 393.07,618.87 394.59,619.15 396.12,619.41 397.64,619.66 399.17,619.89 400.7,620.11 402.23,620.32 403.76,620.52 405.29,620.7 406.83,620.87 408.36,621.03 409.9,621.17 411.44,621.3 412.98,621.42 414.52,621.53 416.06,621.62 417.6,621.7 419.14,621.76 420.69,621.82 422.23,621.86" fill="#ccffcc" stroke="#555" stroke-width="0.9" stroke-linejoin="miter"/>
<polyline points="277.01,544.73 265.42,552.94" fill="none" stroke="#000" stroke-width="1" stroke-dasharray="1 1.6"/>
<text transform="translate(280.14,322.65) rotate(308.57) scale(1.18,1)" text-anchor="middle" font-size="10.3" fill="#000">o</text>
<text transform="translate(283.57,318.47) rotate(310.22) scale(1.18,1)" text-anchor="middle" font-size="10.3" fill="#000">r</text>
<text transform="translate(285.77,315.92) rotate(311.26) scale(1.18,1)" text-anchor="middle" font-size="10.3" fill="#000">i</text>
<text transform="translate(525.47,604.85) rotate(-30.92) scale(1.22,1)" text-anchor="middle" font-size="10.3" fill="#000">f</text>
<text transform="translate(529.93,602.09) rotate(-32.47) scale(1.22,1)" text-anchor="middle" font-size="10.3" fill="#000">1</text>
<text transform="translate(538.64,596.21) rotate(-35.59) scale(1.22,1)" text-anchor="middle" font-size="10.3" fill="#000">o</text>
<text transform="translate(543.14,592.89) rotate(-37.25) scale(1.22,1)" text-anchor="middle" font-size="10.3" fill="#000">r</text>
<text transform="translate(545.91,590.75) rotate(-38.29) scale(1.22,1)" text-anchor="middle" font-size="10.3" fill="#000">i</text>
<text transform="translate(254.35,468.21) rotate(80.38) scale(1.14,1)" text-anchor="middle" font-size="10.3" fill="#000">A</text>
<text transform="translate(256.04,476.88) rotate(77.48) scale(1.14,1)" text-anchor="middle" font-size="10.3" fill="#000">m</text>
<text transform="translate(258,484.81) rotate(74.8) scale(1.14,1)" text-anchor="middle" font-size="10.3" fill="#000">p</text>
<text transform="translate(260.13,492.03) rotate(72.32) scale(1.14,1)" text-anchor="middle" font-size="10.3" fill="#000">R</text>
<text transform="translate(326.57,604.98) rotate(30.99) scale(1.08,1)" text-anchor="middle" font-size="10.3" fill="#000">N</text>
<text transform="translate(332.72,608.52) rotate(28.89) scale(1.08,1)" text-anchor="middle" font-size="10.3" fill="#000">e</text>
<text transform="translate(338.18,611.42) rotate(27.06) scale(1.08,1)" text-anchor="middle" font-size="10.3" fill="#000">o</text>
<text transform="translate(344.56,614.54) rotate(24.95) scale(1.08,1)" text-anchor="middle" font-size="10.3" fill="#000">R</text>
<text transform="translate(349.63,616.81) rotate(23.31) scale(1.08,1)" text-anchor="middle" font-size="10.3" fill="#000">/</text>
<text transform="translate(354.48,618.82) rotate(21.75) scale(1.08,1)" text-anchor="middle" font-size="10.3" fill="#000">K</text>
<text transform="translate(360.84,621.23) rotate(19.74) scale(1.08,1)" text-anchor="middle" font-size="10.3" fill="#000">a</text>
<text transform="translate(366.69,623.22) rotate(17.91) scale(1.08,1)" text-anchor="middle" font-size="10.3" fill="#000">n</text>
<text transform="translate(373.49,625.28) rotate(15.81) scale(1.08,1)" text-anchor="middle" font-size="10.3" fill="#000">R</text>
<polygon points="378.49,247.97 379.23,247.78 379.97,247.6 380.72,247.42 381.46,247.25 382.21,247.08 382.95,246.91 386.07,260.76 385.38,260.92 384.69,261.08 383.99,261.24 383.3,261.4 382.61,261.57 381.93,261.74" fill="#31849b" stroke="#222" stroke-width="0.8"/>
<polygon points="385.6,246.33 387.75,245.89 386.87,241.48 392.99,252.13 391.26,263.54 390.52,259.82 388.53,260.22" fill="#fff" stroke="#333" stroke-width="0.8"/>
<polyline points="388.54,256.44 391.25,255.9" fill="none" stroke="#222" stroke-width="0.9" stroke-dasharray="1 1.3"/>
<polyline points="387.93,253.5 390.69,252.96" fill="none" stroke="#222" stroke-width="0.9" stroke-dasharray="1 1.3"/>
<polyline points="387.33,250.57 390.13,250.01" fill="none" stroke="#222" stroke-width="0.9" stroke-dasharray="1 1.3"/>
<polyline points="386.82,248.12 389.66,247.55" fill="none" stroke="#222" stroke-width="0.9" stroke-dasharray="1 1.3"/>
<polygon points="394.01,244.75 394.71,244.63 395.41,244.52 396.11,244.41 396.81,244.3 397.51,244.2 399.58,258.25 398.93,258.35 398.28,258.45 397.63,258.55 396.98,258.65 396.33,258.76" fill="#31849b" stroke="#222" stroke-width="0.8"/>
<polygon points="398.54,244.05 399.85,243.87 399.24,239.41 403.13,250.61 402.25,261.71 401.75,257.94 400.54,258.11" fill="#fff" stroke="#333" stroke-width="0.8"/>
<polygon points="398.75,244.02 399.53,243.91 400.3,243.81 401.08,243.71 401.85,243.61 403.4,256.01 402.67,256.11 401.94,256.2 401.22,256.3 400.49,256.4" fill="#a020f0" stroke="none" stroke-width="0.8"/>
<polygon points="405.38,243.2 406.83,243.05 406.39,238.58 410.13,249.88 408.6,260.97 408.23,257.19 406.88,257.32" fill="#fff" stroke="#333" stroke-width="0.8"/>
<polygon points="588.89,550.2 589.62,549.11 593.36,551.62 585.04,543.18 574.69,539.06 577.84,541.18 577.16,542.19" fill="#fff" stroke="#333" stroke-width="0.8"/>
<polygon points="585.89,554.46 586.65,553.39 590.32,556.01 582.22,547.35 571.99,542.95 575.09,545.16 574.38,546.15" fill="#fff" stroke="#333" stroke-width="0.8"/>
<polygon points="587.94,551.57 587.49,552.21 587.04,552.85 586.59,553.49 586.13,554.12 575.58,546.53 576,545.94 576.43,545.34 576.85,544.75 577.27,544.15" fill="#a020f0" stroke="none" stroke-width="0.8"/>
<text transform="translate(336.44,296.85) rotate(-32.25) scale(1.18,1)" text-anchor="middle" font-size="10.4" fill="#000">l</text>
<text transform="translate(340.52,294.36) rotate(-30.62) scale(1.18,1)" text-anchor="middle" font-size="10.4" fill="#000">a</text>
<text transform="translate(346.16,291.17) rotate(-28.42) scale(1.18,1)" text-anchor="middle" font-size="10.4" fill="#000">c</text>
<text transform="translate(354.99,286.72) rotate(-25.05) scale(1.18,1)" text-anchor="middle" font-size="10.4" fill="#000">p</text>
<text transform="translate(359.97,284.49) rotate(-23.19) scale(1.18,1)" text-anchor="middle" font-size="10.4" fill="#000">r</text>
<text transform="translate(365.01,282.42) rotate(-21.33) scale(1.18,1)" text-anchor="middle" font-size="10.4" fill="#000">o</text>
<text transform="translate(373.03,279.53) rotate(-18.43) scale(1.18,1)" text-anchor="middle" font-size="10.4" fill="#000">m</text>
<text transform="translate(381.18,277.04) rotate(-15.52) scale(1.18,1)" text-anchor="middle" font-size="10.4" fill="#000">o</text>
<text transform="translate(386.13,275.74) rotate(-13.78) scale(1.18,1)" text-anchor="middle" font-size="10.4" fill="#000">t</text>
<text transform="translate(391.12,274.6) rotate(-12.04) scale(1.18,1)" text-anchor="middle" font-size="10.4" fill="#000">e</text>
<text transform="translate(396.47,273.55) rotate(-10.18) scale(1.18,1)" text-anchor="middle" font-size="10.4" fill="#000">r</text>
<text transform="translate(411.86,271.51) rotate(-4.89) scale(1.12,1)" text-anchor="middle" font-size="10.4" fill="#000">S</text>
<text transform="translate(419.59,271.03) rotate(-2.25) scale(1.12,1)" text-anchor="middle" font-size="10.4" fill="#000">P</text>
<text transform="translate(426.7,270.9) rotate(0.17) scale(1.12,1)" text-anchor="middle" font-size="10.4" fill="#000">6</text>
<text transform="translate(436.39,271.21) rotate(3.47) scale(1.12,1)" text-anchor="middle" font-size="10.4" fill="#000">p</text>
<text transform="translate(441.54,271.6) rotate(5.23) scale(1.12,1)" text-anchor="middle" font-size="10.4" fill="#000">r</text>
<text transform="translate(446.67,272.15) rotate(6.99) scale(1.12,1)" text-anchor="middle" font-size="10.4" fill="#000">o</text>
<text transform="translate(454.66,273.33) rotate(9.74) scale(1.12,1)" text-anchor="middle" font-size="10.4" fill="#000">m</text>
<text transform="translate(462.58,274.88) rotate(12.49) scale(1.12,1)" text-anchor="middle" font-size="10.4" fill="#000">o</text>
<text transform="translate(467.3,276) rotate(14.14) scale(1.12,1)" text-anchor="middle" font-size="10.4" fill="#000">t</text>
<text transform="translate(471.98,277.25) rotate(15.79) scale(1.12,1)" text-anchor="middle" font-size="10.4" fill="#000">e</text>
<text transform="translate(476.93,278.73) rotate(17.55) scale(1.12,1)" text-anchor="middle" font-size="10.4" fill="#000">r</text>
<text transform="translate(390.64,289.06) rotate(-13.33) scale(1.1,1)" text-anchor="middle" font-size="10.4" fill="#000">M</text>
<text transform="translate(398.45,287.42) rotate(-10.37) scale(1.1,1)" text-anchor="middle" font-size="10.4" fill="#000">1</text>
<text transform="translate(404.76,286.4) rotate(-7.99) scale(1.1,1)" text-anchor="middle" font-size="10.4" fill="#000">3</text>
<text transform="translate(413,285.47) rotate(-4.91) scale(1.1,1)" text-anchor="middle" font-size="10.4" fill="#000">r</text>
<text transform="translate(418.1,285.11) rotate(-3.01) scale(1.1,1)" text-anchor="middle" font-size="10.4" fill="#000">e</text>
<text transform="translate(424.16,284.91) rotate(-0.76) scale(1.1,1)" text-anchor="middle" font-size="10.4" fill="#000">v</text>
<text transform="translate(552.92,560.23) rotate(-46.29) scale(1.14,1)" text-anchor="middle" font-size="10.4" fill="#000">T</text>
<text transform="translate(557.59,555.14) rotate(-48.55) scale(1.14,1)" text-anchor="middle" font-size="10.4" fill="#000">7</text>
<text transform="translate(563.92,547.56) rotate(-51.78) scale(1.14,1)" text-anchor="middle" font-size="10.4" fill="#000">p</text>
<text transform="translate(567.11,543.37) rotate(-53.5) scale(1.14,1)" text-anchor="middle" font-size="10.4" fill="#000">r</text>
<text transform="translate(570.18,539.1) rotate(-55.22) scale(1.14,1)" text-anchor="middle" font-size="10.4" fill="#000">o</text>
<text transform="translate(574.71,532.23) rotate(-57.91) scale(1.14,1)" text-anchor="middle" font-size="10.4" fill="#000">m</text>
<text transform="translate(578.92,525.16) rotate(-60.6) scale(1.14,1)" text-anchor="middle" font-size="10.4" fill="#000">o</text>
<text transform="translate(581.28,520.83) rotate(-62.21) scale(1.14,1)" text-anchor="middle" font-size="10.4" fill="#000">t</text>
<text transform="translate(583.52,516.43) rotate(-63.83) scale(1.14,1)" text-anchor="middle" font-size="10.4" fill="#000">e</text>
<text transform="translate(585.77,511.67) rotate(-65.55) scale(1.14,1)" text-anchor="middle" font-size="10.4" fill="#000">r</text>
<path d="M384.47,429.68 h3.58 v1.2 h-3.58 z M384.47,436.5 h3.58 v1.2 h-3.58 z" fill="#000"/>
<path d="M388.25,429.68 h3.58 v1.2 h-3.58 z M388.25,436.5 h3.58 v1.2 h-3.58 z" fill="#000"/>
<path d="M445.73,429.68 h3.58 v1.2 h-3.58 z M445.73,436.5 h3.58 v1.2 h-3.58 z" fill="#000"/>
<text x="356.4" y="437.7" font-size="11.2" font-weight="bold" fill="#000" stroke="#000" stroke-width="0.25" textLength="139.9" lengthAdjust="spacingAndGlyphs">pCRII-Plxnb2-ISH-2kb</text>
<text x="406.3" y="449.6" font-size="10.3" fill="#000" stroke="#000" stroke-width="0" textLength="40.9" lengthAdjust="spacingAndGlyphs">5933 bp</text>
<text x="31.4" y="228.2" font-size="8.6" fill="#a020f0" stroke="#a020f0" stroke-width="0" textLength="65.7" lengthAdjust="spacingAndGlyphs">(5317 .. 5336)</text>
<text x="104.2" y="228.2" font-size="10.3" fill="#a020f0" stroke="#a020f0" stroke-width="0" textLength="62.2" lengthAdjust="spacingAndGlyphs">pBR322ori-F</text>
<text x="123.4" y="209.7" font-size="8.6" fill="#000" stroke="#000" stroke-width="0" textLength="29.8" lengthAdjust="spacingAndGlyphs">(5472)</text>
<path d="M178.32,202.18 h3.08 v1.2 h-3.08 z M178.32,208.5 h3.08 v1.2 h-3.08 z" fill="#000"/>
<text x="160.5" y="209.7" font-size="10.5" font-weight="bold" fill="#000" stroke="#000" stroke-width="0.25" textLength="21" lengthAdjust="spacingAndGlyphs">PciI</text>
<text x="90" y="191.7" font-size="8.6" fill="#a020f0" stroke="#a020f0" stroke-width="0" textLength="66" lengthAdjust="spacingAndGlyphs">(5570 .. 5587)</text>
<text x="163.5" y="191.7" font-size="10.3" fill="#a020f0" stroke="#a020f0" stroke-width="0" textLength="30" lengthAdjust="spacingAndGlyphs">L4440</text>
<text x="65" y="155.7" font-size="8.6" fill="#a020f0" stroke="#a020f0" stroke-width="0" textLength="66" lengthAdjust="spacingAndGlyphs">(5783 .. 5805)</text>
<text x="138.5" y="155.7" font-size="10.3" fill="#a020f0" stroke="#a020f0" stroke-width="0" textLength="88.5" lengthAdjust="spacingAndGlyphs">M13/pUC Reverse</text>
<text x="134" y="119.7" font-size="8.6" fill="#a020f0" stroke="#a020f0" stroke-width="0" textLength="66" lengthAdjust="spacingAndGlyphs">(5802 .. 5818)</text>
<text x="207" y="119.7" font-size="10.3" fill="#a020f0" stroke="#a020f0" stroke-width="0" textLength="64" lengthAdjust="spacingAndGlyphs">M13 Reverse</text>
<text x="196" y="107.7" font-size="8.6" fill="#a020f0" stroke="#a020f0" stroke-width="0" textLength="66" lengthAdjust="spacingAndGlyphs">(5836 .. 5853)</text>
<text x="269" y="107.7" font-size="10.3" fill="#a020f0" stroke="#a020f0" stroke-width="0" textLength="19" lengthAdjust="spacingAndGlyphs">SP6</text>
<text x="242.4" y="89.8" font-size="8.6" fill="#000" stroke="#000" stroke-width="0" textLength="30.3" lengthAdjust="spacingAndGlyphs">(5879)</text>
<path d="M314.47,82.28 h3.13 v1.2 h-3.13 z M314.47,88.6 h3.13 v1.2 h-3.13 z" fill="#000"/>
<text x="279" y="89.8" font-size="10.5" font-weight="bold" fill="#000" stroke="#000" stroke-width="0.25" textLength="38.7" lengthAdjust="spacingAndGlyphs">Acc65I</text>
<text x="278.3" y="77.9" font-size="8.6" fill="#000" stroke="#000" stroke-width="0" textLength="30.3" lengthAdjust="spacingAndGlyphs">(5883)</text>
<path d="M338.72,70.38 h3.08 v1.2 h-3.08 z M338.72,76.7 h3.08 v1.2 h-3.08 z" fill="#000"/>
<text x="315.7" y="77.9" font-size="10.5" font-weight="bold" fill="#000" stroke="#000" stroke-width="0.25" textLength="26.2" lengthAdjust="spacingAndGlyphs">KpnI</text>
<text x="287.3" y="66" font-size="8.6" fill="#000" stroke="#000" stroke-width="0" textLength="30.4" lengthAdjust="spacingAndGlyphs">(5887)</text>
<path d="M366.46,58.48 h3.14 v1.2 h-3.14 z M366.46,64.8 h3.14 v1.2 h-3.14 z" fill="#000"/>
<text x="324.3" y="66" font-size="10.5" font-weight="bold" fill="#000" stroke="#000" stroke-width="0.25" textLength="45.4" lengthAdjust="spacingAndGlyphs">Eco53kI</text>
<text x="41.7" y="339.8" font-size="8.6" fill="#000" stroke="#000" stroke-width="0" textLength="30.8" lengthAdjust="spacingAndGlyphs">(4752)</text>
<path d="M109.84,332.28 h3.06 v1.2 h-3.06 z M109.84,338.6 h3.06 v1.2 h-3.06 z" fill="#000"/>
<text x="79.1" y="339.8" font-size="10.5" font-weight="bold" fill="#000" stroke="#000" stroke-width="0.25" textLength="33.9" lengthAdjust="spacingAndGlyphs">BspHI</text>
<text x="36.1" y="396.7" font-size="8.6" fill="#000" stroke="#000" stroke-width="0" textLength="30.4" lengthAdjust="spacingAndGlyphs">(4584)</text>
<path d="M96.76,389.18 h3.14 v1.2 h-3.14 z M96.76,395.5 h3.14 v1.2 h-3.14 z" fill="#000"/>
<text x="73.3" y="396.7" font-size="10.5" font-weight="bold" fill="#000" stroke="#000" stroke-width="0.25" textLength="26.7" lengthAdjust="spacingAndGlyphs">AhdI</text>
<text x="36.1" y="420.7" font-size="8.6" fill="#000" stroke="#000" stroke-width="0" textLength="30.4" lengthAdjust="spacingAndGlyphs">(4518)</text>
<path d="M94.85,413.18 h3.05 v1.2 h-3.05 z M94.85,419.5 h3.05 v1.2 h-3.05 z" fill="#000"/>
<text x="73.3" y="420.7" font-size="10.5" font-weight="bold" fill="#000" stroke="#000" stroke-width="0.25" textLength="24.7" lengthAdjust="spacingAndGlyphs">BsaI</text>
<text x="17.8" y="580.7" font-size="8.6" fill="#a020f0" stroke="#a020f0" stroke-width="0" textLength="66.8" lengthAdjust="spacingAndGlyphs">(4015 .. 4034)</text>
<text x="90.8" y="580.7" font-size="10.3" fill="#a020f0" stroke="#a020f0" stroke-width="0" textLength="34.4" lengthAdjust="spacingAndGlyphs">Amp-R</text>
<text x="66.2" y="598.6" font-size="8.6" fill="#000" stroke="#000" stroke-width="0" textLength="30.4" lengthAdjust="spacingAndGlyphs">(3984)</text>
<path d="M130.13,591.08 h3.27 v1.2 h-3.27 z M130.13,597.4 h3.27 v1.2 h-3.27 z" fill="#000"/>
<text x="103" y="598.6" font-size="10.5" font-weight="bold" fill="#000" stroke="#000" stroke-width="0.25" textLength="30.5" lengthAdjust="spacingAndGlyphs">XmnI</text>
<text x="89.2" y="687.8" font-size="8.6" fill="#a020f0" stroke="#a020f0" stroke-width="0" textLength="66.2" lengthAdjust="spacingAndGlyphs">(3649 .. 3668)</text>
<text x="162.2" y="687.8" font-size="10.3" fill="#a020f0" stroke="#a020f0" stroke-width="0" textLength="29.8" lengthAdjust="spacingAndGlyphs">Neo-F</text>
<text x="143" y="705.7" font-size="8.6" fill="#000" stroke="#000" stroke-width="0" textLength="30.5" lengthAdjust="spacingAndGlyphs">(3629)</text>
<path d="M202.23,698.18 h3.49 v1.2 h-3.49 z M202.23,704.5 h3.49 v1.2 h-3.49 z" fill="#000"/>
<path d="M205.91,698.18 h3.49 v1.2 h-3.49 z M205.91,704.5 h3.49 v1.2 h-3.49 z" fill="#000"/>
<text x="180" y="705.7" font-size="10.5" font-weight="bold" fill="#000" stroke="#000" stroke-width="0.25" textLength="29.5" lengthAdjust="spacingAndGlyphs">RsrII</text>
<text x="157.8" y="732.7" font-size="8.6" fill="#000" stroke="#000" stroke-width="0" textLength="30.5" lengthAdjust="spacingAndGlyphs">(3510)</text>
<path d="M226.55,725.18 h3.17 v1.2 h-3.17 z M226.55,731.5 h3.17 v1.2 h-3.17 z" fill="#000"/>
<path d="M229.93,725.18 h3.17 v1.2 h-3.17 z M229.93,731.5 h3.17 v1.2 h-3.17 z" fill="#000"/>
<text x="195.4" y="732.7" font-size="10.5" font-weight="bold" fill="#000" stroke="#000" stroke-width="0.25" textLength="37.8" lengthAdjust="spacingAndGlyphs">BssHII</text>
<text x="187" y="782.9" font-size="8.6" fill="#000" stroke="#000" stroke-width="0" textLength="30.7" lengthAdjust="spacingAndGlyphs">(3231)</text>
<path d="M247.31,775.38 h3.19 v1.2 h-3.19 z M247.31,781.7 h3.19 v1.2 h-3.19 z" fill="#000"/>
<text x="224.2" y="782.9" font-size="10.5" font-weight="bold" fill="#000" stroke="#000" stroke-width="0.25" textLength="26.4" lengthAdjust="spacingAndGlyphs">PflFI</text>
<path d="M309.57,775.38 h3.33 v1.2 h-3.33 z M309.57,781.7 h3.33 v1.2 h-3.33 z" fill="#000"/>
<text x="260.8" y="782.9" font-size="10.5" font-weight="bold" fill="#000" stroke="#000" stroke-width="0.25" textLength="52.2" lengthAdjust="spacingAndGlyphs">- Tth111I</text>
<text x="250" y="800.7" font-size="8.6" fill="#a020f0" stroke="#a020f0" stroke-width="0" textLength="66.2" lengthAdjust="spacingAndGlyphs">(3039 .. 3058)</text>
<text x="323.2" y="800.7" font-size="10.3" fill="#a020f0" stroke="#a020f0" stroke-width="0" textLength="30.5" lengthAdjust="spacingAndGlyphs">Neo-R</text>
<text x="359.2" y="819" font-size="8.6" fill="#000" stroke="#000" stroke-width="0" textLength="30.2" lengthAdjust="spacingAndGlyphs">(2954)</text>
<path d="M416.4,811.48 h3.39 v1.2 h-3.39 z M416.4,817.8 h3.39 v1.2 h-3.39 z" fill="#000"/>
<text x="396.2" y="819" font-size="10.5" font-weight="bold" fill="#000" stroke="#000" stroke-width="0.25" textLength="32.3" lengthAdjust="spacingAndGlyphs">BclI *</text>
<path d="M435.45,45.88 h3.15 v1.2 h-3.15 z M435.45,52.2 h3.15 v1.2 h-3.15 z" fill="#000"/>
<text x="413.9" y="53.4" font-size="10.5" font-weight="bold" fill="#000" stroke="#000" stroke-width="0.25" textLength="24.8" lengthAdjust="spacingAndGlyphs">SacI</text>
<text x="450.3" y="53.4" font-size="8.6" fill="#000" stroke="#000" stroke-width="0" textLength="30.3" lengthAdjust="spacingAndGlyphs">(5889)</text>
<path d="M485.38,58.58 h3.22 v1.2 h-3.22 z M485.38,64.9 h3.22 v1.2 h-3.22 z" fill="#000"/>
<text x="462.7" y="66.1" font-size="10.5" font-weight="bold" fill="#000" stroke="#000" stroke-width="0.25" textLength="26" lengthAdjust="spacingAndGlyphs">SpeI</text>
<text x="500" y="66.1" font-size="8.6" fill="#000" stroke="#000" stroke-width="0" textLength="30.6" lengthAdjust="spacingAndGlyphs">(5897)</text>
<path d="M564.69,79.98 h3.21 v1.2 h-3.21 z M564.69,86.3 h3.21 v1.2 h-3.21 z" fill="#000"/>
<text x="527.1" y="87.5" font-size="10.5" font-weight="bold" fill="#000" stroke="#000" stroke-width="0.25" textLength="40.9" lengthAdjust="spacingAndGlyphs">Bpu10I</text>
<text x="580" y="87.5" font-size="8.6" fill="#000" stroke="#000" stroke-width="0" textLength="25.3" lengthAdjust="spacingAndGlyphs">(264)</text>
<path d="M603.92,116.98 h3.32 v1.2 h-3.32 z M603.92,123.3 h3.32 v1.2 h-3.32 z" fill="#000"/>
<text x="583.4" y="124.5" font-size="10.5" font-weight="bold" fill="#000" stroke="#000" stroke-width="0.25" textLength="32.4" lengthAdjust="spacingAndGlyphs">PfoI *</text>
<text x="623.4" y="124.5" font-size="8.6" fill="#000" stroke="#000" stroke-width="0" textLength="24.8" lengthAdjust="spacingAndGlyphs">(436)</text>
<path d="M656.89,170.18 h3.31 v1.2 h-3.31 z M656.89,176.5 h3.31 v1.2 h-3.31 z" fill="#000"/>
<text x="637.8" y="177.7" font-size="10.5" font-weight="bold" fill="#000" stroke="#000" stroke-width="0.25" textLength="22.5" lengthAdjust="spacingAndGlyphs">SalI</text>
<text x="671.3" y="177.7" font-size="8.6" fill="#000" stroke="#000" stroke-width="0" textLength="25.1" lengthAdjust="spacingAndGlyphs">(658)</text>
<path d="M670.18,182.28 h3.02 v1.2 h-3.02 z M670.18,188.6 h3.02 v1.2 h-3.02 z" fill="#000"/>
<text x="648.8" y="189.8" font-size="10.5" font-weight="bold" fill="#000" stroke="#000" stroke-width="0.25" textLength="24.5" lengthAdjust="spacingAndGlyphs">AccI</text>
<text x="685.2" y="189.8" font-size="8.6" fill="#000" stroke="#000" stroke-width="0" textLength="25.1" lengthAdjust="spacingAndGlyphs">(659)</text>
<path d="M705.07,212.58 h3.03 v1.2 h-3.03 z M705.07,218.9 h3.03 v1.2 h-3.03 z" fill="#000"/>
<text x="675.3" y="220.1" font-size="10.5" font-weight="bold" fill="#000" stroke="#000" stroke-width="0.25" textLength="32.9" lengthAdjust="spacingAndGlyphs">PaqCI</text>
<text x="720.3" y="220.1" font-size="8.6" fill="#000" stroke="#000" stroke-width="0" textLength="24.9" lengthAdjust="spacingAndGlyphs">(797)</text>
<path d="M721.01,251.48 h3.29 v1.2 h-3.29 z M721.01,257.8 h3.29 v1.2 h-3.29 z" fill="#000"/>
<text x="699.3" y="259" font-size="10.5" font-weight="bold" fill="#000" stroke="#000" stroke-width="0.25" textLength="25.1" lengthAdjust="spacingAndGlyphs">MfeI</text>
<text x="735.2" y="259" font-size="8.6" fill="#000" stroke="#000" stroke-width="0" textLength="25" lengthAdjust="spacingAndGlyphs">(928)</text>
<path d="M754.12,324.58 h3.18 v1.2 h-3.18 z M754.12,330.9 h3.18 v1.2 h-3.18 z" fill="#000"/>
<text x="731" y="332.1" font-size="10.5" font-weight="bold" fill="#000" stroke="#000" stroke-width="0.25" textLength="26.4" lengthAdjust="spacingAndGlyphs">AgeI</text>
<text x="770" y="332.1" font-size="8.6" fill="#000" stroke="#000" stroke-width="0" textLength="30.7" lengthAdjust="spacingAndGlyphs">(1156)</text>
<path d="M777.7,428.48 h3.25 v1.2 h-3.25 z M777.7,434.8 h3.25 v1.2 h-3.25 z" fill="#000"/>
<path d="M781.15,428.48 h3.25 v1.2 h-3.25 z M781.15,434.8 h3.25 v1.2 h-3.25 z" fill="#000"/>
<text x="749.3" y="436" font-size="10.5" font-weight="bold" fill="#000" stroke="#000" stroke-width="0.25" textLength="35.2" lengthAdjust="spacingAndGlyphs">BstEII</text>
<text x="798.3" y="436" font-size="8.6" fill="#000" stroke="#000" stroke-width="0" textLength="30.3" lengthAdjust="spacingAndGlyphs">(1460)</text>
<path d="M775.72,445.18 h3.26 v1.2 h-3.26 z M775.72,451.5 h3.26 v1.2 h-3.26 z" fill="#000"/>
<text x="749.3" y="452.7" font-size="10.5" font-weight="bold" fill="#000" stroke="#000" stroke-width="0.25" textLength="38.1" lengthAdjust="spacingAndGlyphs">PflMI *</text>
<text x="795.3" y="452.7" font-size="8.6" fill="#000" stroke="#000" stroke-width="0" textLength="30.3" lengthAdjust="spacingAndGlyphs">(1513)</text>
<path d="M769.95,477.48 h3.25 v1.2 h-3.25 z M769.95,483.8 h3.25 v1.2 h-3.25 z" fill="#000"/>
<text x="746.4" y="485" font-size="10.5" font-weight="bold" fill="#000" stroke="#000" stroke-width="0.25" textLength="26.9" lengthAdjust="spacingAndGlyphs">NheI</text>
<text x="785.2" y="485" font-size="8.6" fill="#000" stroke="#000" stroke-width="0" textLength="30.4" lengthAdjust="spacingAndGlyphs">(1622)</text>
<path d="M769.66,489.68 h3.24 v1.2 h-3.24 z M769.66,496 h3.24 v1.2 h-3.24 z" fill="#000"/>
<text x="745.5" y="497.2" font-size="10.5" font-weight="bold" fill="#000" stroke="#000" stroke-width="0.25" textLength="27.5" lengthAdjust="spacingAndGlyphs">BmtI</text>
<text x="786.2" y="497.2" font-size="8.6" fill="#000" stroke="#000" stroke-width="0" textLength="30.4" lengthAdjust="spacingAndGlyphs">(1626)</text>
<text x="724.4" y="571.8" font-size="10.5" font-weight="bold" fill="#000" stroke="#000" stroke-width="0.25" textLength="34.3" lengthAdjust="spacingAndGlyphs">EcoRV</text>
<text x="772" y="571.8" font-size="8.6" fill="#000" stroke="#000" stroke-width="0" textLength="31" lengthAdjust="spacingAndGlyphs">(1979)</text>
<path d="M741.53,576.18 h3.37 v1.2 h-3.37 z M741.53,582.5 h3.37 v1.2 h-3.37 z" fill="#000"/>
<text x="720" y="583.7" font-size="10.5" font-weight="bold" fill="#000" stroke="#000" stroke-width="0.25" textLength="25" lengthAdjust="spacingAndGlyphs">NotI</text>
<text x="756" y="583.7" font-size="8.6" fill="#000" stroke="#000" stroke-width="0" textLength="30.5" lengthAdjust="spacingAndGlyphs">(1994)</text>
<path d="M751.07,588.18 h3.13 v1.2 h-3.13 z M751.07,594.5 h3.13 v1.2 h-3.13 z" fill="#000"/>
<text x="714.3" y="595.7" font-size="10.5" font-weight="bold" fill="#000" stroke="#000" stroke-width="0.25" textLength="40" lengthAdjust="spacingAndGlyphs">PaeR7I</text>
<path d="M803.76,588.18 h3.14 v1.2 h-3.14 z M803.76,594.5 h3.14 v1.2 h-3.14 z" fill="#000"/>
<text x="766.3" y="595.7" font-size="10.5" font-weight="bold" fill="#000" stroke="#000" stroke-width="0.25" textLength="40.7" lengthAdjust="spacingAndGlyphs">- PspXI</text>
<path d="M848.32,588.18 h3.18 v1.2 h-3.18 z M848.32,594.5 h3.18 v1.2 h-3.18 z" fill="#000"/>
<text x="817.8" y="595.7" font-size="10.5" font-weight="bold" fill="#000" stroke="#000" stroke-width="0.25" textLength="33.8" lengthAdjust="spacingAndGlyphs">- XhoI</text>
<text x="864.5" y="595.7" font-size="8.6" fill="#000" stroke="#000" stroke-width="0" textLength="30.5" lengthAdjust="spacingAndGlyphs">(2000)</text>
<path d="M731.95,600.18 h3.25 v1.2 h-3.25 z M731.95,606.5 h3.25 v1.2 h-3.25 z" fill="#000"/>
<text x="709.1" y="607.7" font-size="10.5" font-weight="bold" fill="#000" stroke="#000" stroke-width="0.25" textLength="26.2" lengthAdjust="spacingAndGlyphs">XbaI</text>
<text x="748" y="607.7" font-size="8.6" fill="#000" stroke="#000" stroke-width="0" textLength="30.6" lengthAdjust="spacingAndGlyphs">(2012)</text>
<text x="699" y="625.6" font-size="10.3" fill="#a020f0" stroke="#a020f0" stroke-width="0" textLength="12" lengthAdjust="spacingAndGlyphs">T7</text>
<text x="723.5" y="625.6" font-size="8.6" fill="#a020f0" stroke="#a020f0" stroke-width="0" textLength="66.2" lengthAdjust="spacingAndGlyphs">(2030 .. 2049)</text>
<text x="677.3" y="661.8" font-size="10.3" fill="#a020f0" stroke="#a020f0" stroke-width="0" textLength="64.3" lengthAdjust="spacingAndGlyphs">M13 Forward</text>
<text x="753.5" y="661.8" font-size="8.6" fill="#a020f0" stroke="#a020f0" stroke-width="0" textLength="66.5" lengthAdjust="spacingAndGlyphs">(2056 .. 2073)</text>
<text x="668" y="673.8" font-size="10.3" fill="#a020f0" stroke="#a020f0" stroke-width="0" textLength="89.4" lengthAdjust="spacingAndGlyphs">M13/pUC Forward</text>
<text x="770.3" y="673.8" font-size="8.6" fill="#a020f0" stroke="#a020f0" stroke-width="0" textLength="66.3" lengthAdjust="spacingAndGlyphs">(2065 .. 2087)</text>
<text x="641.4" y="709.9" font-size="10.3" fill="#a020f0" stroke="#a020f0" stroke-width="0" textLength="35.6" lengthAdjust="spacingAndGlyphs">F1ori-R</text>
<text x="690.5" y="709.9" font-size="8.6" fill="#a020f0" stroke="#a020f0" stroke-width="0" textLength="66.5" lengthAdjust="spacingAndGlyphs">(2300 .. 2319)</text>
<path d="M635.27,728.48 h3.74 v1.2 h-3.74 z M635.27,734.8 h3.74 v1.2 h-3.74 z" fill="#000"/>
<path d="M639.21,728.48 h3.74 v1.2 h-3.74 z M639.21,734.8 h3.74 v1.2 h-3.74 z" fill="#000"/>
<path d="M643.16,728.48 h3.74 v1.2 h-3.74 z M643.16,734.8 h3.74 v1.2 h-3.74 z" fill="#000"/>
<text x="611.5" y="736" font-size="10.5" font-weight="bold" fill="#000" stroke="#000" stroke-width="0.25" textLength="35.5" lengthAdjust="spacingAndGlyphs">DraIII</text>
<text x="659.2" y="736" font-size="8.6" fill="#000" stroke="#000" stroke-width="0" textLength="30.3" lengthAdjust="spacingAndGlyphs">(2446)</text>
<text x="590" y="753.8" font-size="10.3" fill="#a020f0" stroke="#a020f0" stroke-width="0" textLength="35.4" lengthAdjust="spacingAndGlyphs">F1ori-F</text>
<text x="638.3" y="753.8" font-size="8.6" fill="#a020f0" stroke="#a020f0" stroke-width="0" textLength="66.2" lengthAdjust="spacingAndGlyphs">(2510 .. 2531)</text>
<path d="M583.14,764.28 h3.06 v1.2 h-3.06 z M583.14,770.6 h3.06 v1.2 h-3.06 z" fill="#000"/>
<text x="565.4" y="771.8" font-size="10.5" font-weight="bold" fill="#000" stroke="#000" stroke-width="0.25" textLength="20.9" lengthAdjust="spacingAndGlyphs">PsiI</text>
<text x="597" y="771.8" font-size="8.6" fill="#000" stroke="#000" stroke-width="0" textLength="30.5" lengthAdjust="spacingAndGlyphs">(2571)</text>
<path d="M575.17,779.18 h3.03 v1.2 h-3.03 z M575.17,785.5 h3.03 v1.2 h-3.03 z" fill="#000"/>
<text x="540.2" y="786.7" font-size="10.5" font-weight="bold" fill="#000" stroke="#000" stroke-width="0.25" textLength="38.1" lengthAdjust="spacingAndGlyphs">BstAPI</text>
<text x="592.2" y="786.7" font-size="8.6" fill="#000" stroke="#000" stroke-width="0" textLength="30.4" lengthAdjust="spacingAndGlyphs">(2665)</text>
<path d="M493.2,811.48 h3.35 v1.2 h-3.35 z M493.2,817.8 h3.35 v1.2 h-3.35 z" fill="#000"/>
<path d="M496.75,811.48 h3.35 v1.2 h-3.35 z M496.75,817.8 h3.35 v1.2 h-3.35 z" fill="#000"/>
<text x="472.5" y="819" font-size="10.5" font-weight="bold" fill="#000" stroke="#000" stroke-width="0.25" textLength="27.7" lengthAdjust="spacingAndGlyphs">BglII</text>
<text x="512.5" y="819" font-size="8.6" fill="#000" stroke="#000" stroke-width="0" textLength="29.8" lengthAdjust="spacingAndGlyphs">(2949)</text>
<rect x="130" y="164.5" width="89" height="12" rx="3.5" ry="3.5" fill="#a9cdd8" stroke="#31849b" stroke-width="1"/>
<text x="133.6" y="173.8" font-size="10.5" fill="#000" stroke="#000" stroke-width="0" textLength="81" lengthAdjust="spacingAndGlyphs">CAP binding site</text>
<rect x="191" y="128.5" width="66" height="12" rx="3.5" ry="3.5" fill="#a9cdd8" stroke="#31849b" stroke-width="1"/>
<text x="194.6" y="137.8" font-size="10.5" fill="#000" stroke="#000" stroke-width="0" textLength="58" lengthAdjust="spacingAndGlyphs">lac operator</text>
<rect x="686.3" y="634" width="49.3" height="13" rx="3.5" ry="3.5" fill="#dcb4fa" stroke="#a020f0" stroke-width="1"/>
<text x="689.9" y="643.8" font-size="10.5" fill="#000" stroke="#000" stroke-width="0" textLength="41.3" lengthAdjust="spacingAndGlyphs">M13 fwd</text>
<text x="812.7" y="10.4" font-size="8" fill="#c0c0c0" stroke="#c0c0c0" stroke-width="0" textLength="37.1" lengthAdjust="spacingAndGlyphs">Created by</text>
<path d="M853,2.2 L859,2.2 Q860.5,2.2 860.5,4 L860.5,7 Q860.5,8.5 859,8.5 L857.5,8.5 L856.3,12.6 L855,12.6 Z" fill="#7ccdf4"/>
<text x="862" y="10.6" font-size="9.4" fill="#8b949c" stroke="#8b949c" stroke-width="0" textLength="44.2" lengthAdjust="spacingAndGlyphs">SnapGene</text>
</svg>
</body></html>
